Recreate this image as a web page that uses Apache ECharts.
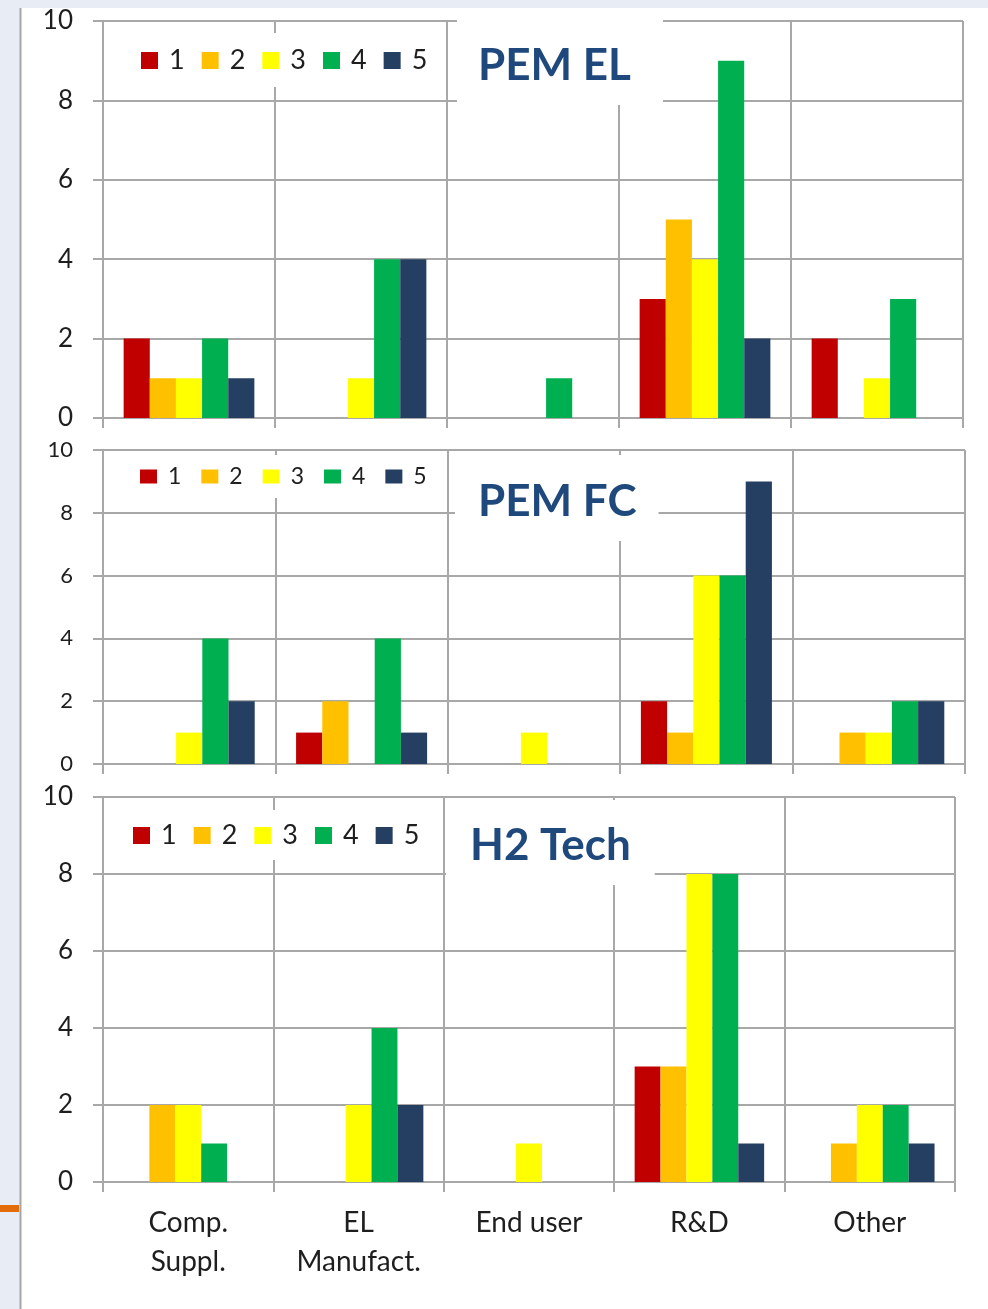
<!DOCTYPE html>
<html>
<head>
<meta charset="utf-8">
<script src="https://cdn.jsdelivr.net/npm/echarts@6/dist/echarts.min.js"></script>
<style>
html, body { margin: 0; padding: 0; background: #fff; }
#chart { width: 988px; height: 1309px; }
</style>
</head>
<body>
<div id="chart"></div>
<script>
// categories and legend names
const categories = ['Comp.\nSuppl.', 'EL\nManufact.', 'End user', 'R&D', 'Other'];
const seriesNames = ['1', '2', '3', '4', '5'];
const seriesColors = ['#c00000', '#ffc000', '#ffff00', '#00b050', '#243f62'];
const yTicks = [0, 2, 4, 6, 8, 10];

// one row per legend entry (1..5), one value per category
const pemEl = [
	[2, 0, 0, 3, 2],
	[1, 0, 0, 5, 0],
	[1, 1, 0, 4, 1],
	[2, 4, 1, 9, 3],
	[1, 4, 0, 2, 0]
];
const pemFc = [
	[0, 1, 0, 2, 0],
	[0, 2, 0, 1, 1],
	[1, 0, 1, 6, 1],
	[4, 4, 0, 6, 2],
	[2, 1, 0, 9, 2]
];
const h2Tech = [
	[0, 0, 0, 3, 0],
	[2, 0, 0, 3, 1],
	[2, 2, 1, 8, 2],
	[1, 4, 0, 8, 2],
	[0, 2, 0, 1, 1]
];
const panelTitles = ['PEM EL', 'PEM FC', 'H2 Tech'];
const panelData = [pemEl, pemFc, h2Tech];

const FONT = 'Lato, "Open Sans", sans-serif';
const LINE = '#a8a8a8';
const TEXT = '#1e1e1e';

// layout of the three stacked panels
const panels = [
	{ left: 103, right: 25, top: 21, height: 397, yFont: 26,
		legend: { left: 125, top: 33, pad: [14, 14, 13, 16], font: 27, h: 17, gap: 17 },
		title: { left: 457, top: 20, pad: [24, 32, 17, 21] } },
	{ left: 103, right: 23, top: 450, height: 314, yFont: 22,
		legend: { left: 124, top: 455, pad: [10, 14, 10, 16], font: 23, h: 14, gap: 20 },
		title: { left: 455, top: 455, pad: [25, 22, 17, 23] } },
	{ left: 103, right: 33, top: 797, height: 385, yFont: 26,
		legend: { left: 117, top: 810, pad: [12, 14, 11, 16], font: 27, h: 17, gap: 17 },
		title: { left: 446, top: 800, pad: [24, 24, 17, 24] } }
];

let chart = echarts.init(document.getElementById('chart'), null, { renderer: 'canvas' });

let grid = [], xAxis = [], yAxis = [], series = [], legend = [], title = [];

panels.forEach((p, i) => {
	grid.push({ left: p.left, right: p.right, top: p.top, height: p.height, containLabel: false });

	xAxis.push({
		type: 'category', gridIndex: i, data: categories,
		axisLine: { show: true, lineStyle: { color: LINE, width: 2 } },
		axisTick: { show: true, length: 10, alignWithLabel: false, lineStyle: { color: LINE, width: 2 } },
		splitLine: { show: true, interval: 0, lineStyle: { color: LINE, width: 2 } },
		axisLabel: {
			show: i === 2, interval: 0, margin: 21,
			fontFamily: FONT, fontSize: 28, lineHeight: 39, color: TEXT
		}
	});

	yAxis.push({
		type: 'value', gridIndex: i, min: yTicks[0], max: yTicks[yTicks.length - 1], interval: 2,
		axisLine: { show: true, lineStyle: { color: LINE, width: 2 } },
		axisTick: { show: true, length: 10, lineStyle: { color: LINE, width: 2 } },
		splitLine: { show: true, lineStyle: { color: LINE, width: 2 } },
		axisLabel: { margin: 30, fontFamily: FONT, fontSize: p.yFont, color: TEXT }
	});

	panelData[i].forEach((values, k) => {
		series.push({
			type: 'bar', name: seriesNames[k], xAxisIndex: i, yAxisIndex: i,
			data: values, barGap: '0%', barCategoryGap: '24%',
			itemStyle: { color: seriesColors[k] },
			emphasis: { disabled: true }
		});
	});

	legend.push({
		data: seriesNames, orient: 'horizontal',
		left: p.legend.left, top: p.legend.top, padding: p.legend.pad,
		backgroundColor: '#fff', itemWidth: 17, itemHeight: p.legend.h, itemGap: p.legend.gap,
		icon: 'rect', selectedMode: false,
		textStyle: { fontFamily: FONT, fontSize: p.legend.font, color: TEXT, padding: [0, 0, 0, 6] }
	});

	title.push({
		text: panelTitles[i], left: p.title.left, top: p.title.top, padding: p.title.pad,
		backgroundColor: '#fff',
		textStyle: { fontFamily: FONT, fontSize: 44, lineHeight: 44, fontWeight: 'bold', color: '#1f497d' }
	});
});

chart.setOption({
	animation: false,
	backgroundColor: '#fff',
	color: seriesColors,
	grid, xAxis, yAxis, series, legend, title,
	graphic: [
		// slide edge decoration
		{ type: 'rect', shape: { x: 0, y: 0, width: 988, height: 8 }, style: { fill: '#e8edf5' }, silent: true },
		{ type: 'rect', shape: { x: 0, y: 0, width: 20, height: 1309 }, style: { fill: '#e8edf5' }, silent: true },
		{ type: 'line', shape: { x1: 20.5, y1: 8, x2: 20.5, y2: 1309 }, style: { stroke: '#a6a6a6', lineWidth: 2 }, silent: true },
		{ type: 'rect', shape: { x: 0, y: 1205, width: 19, height: 7 }, style: { fill: '#e46c0a' }, silent: true }
	]
});
</script>
</body>
</html>
